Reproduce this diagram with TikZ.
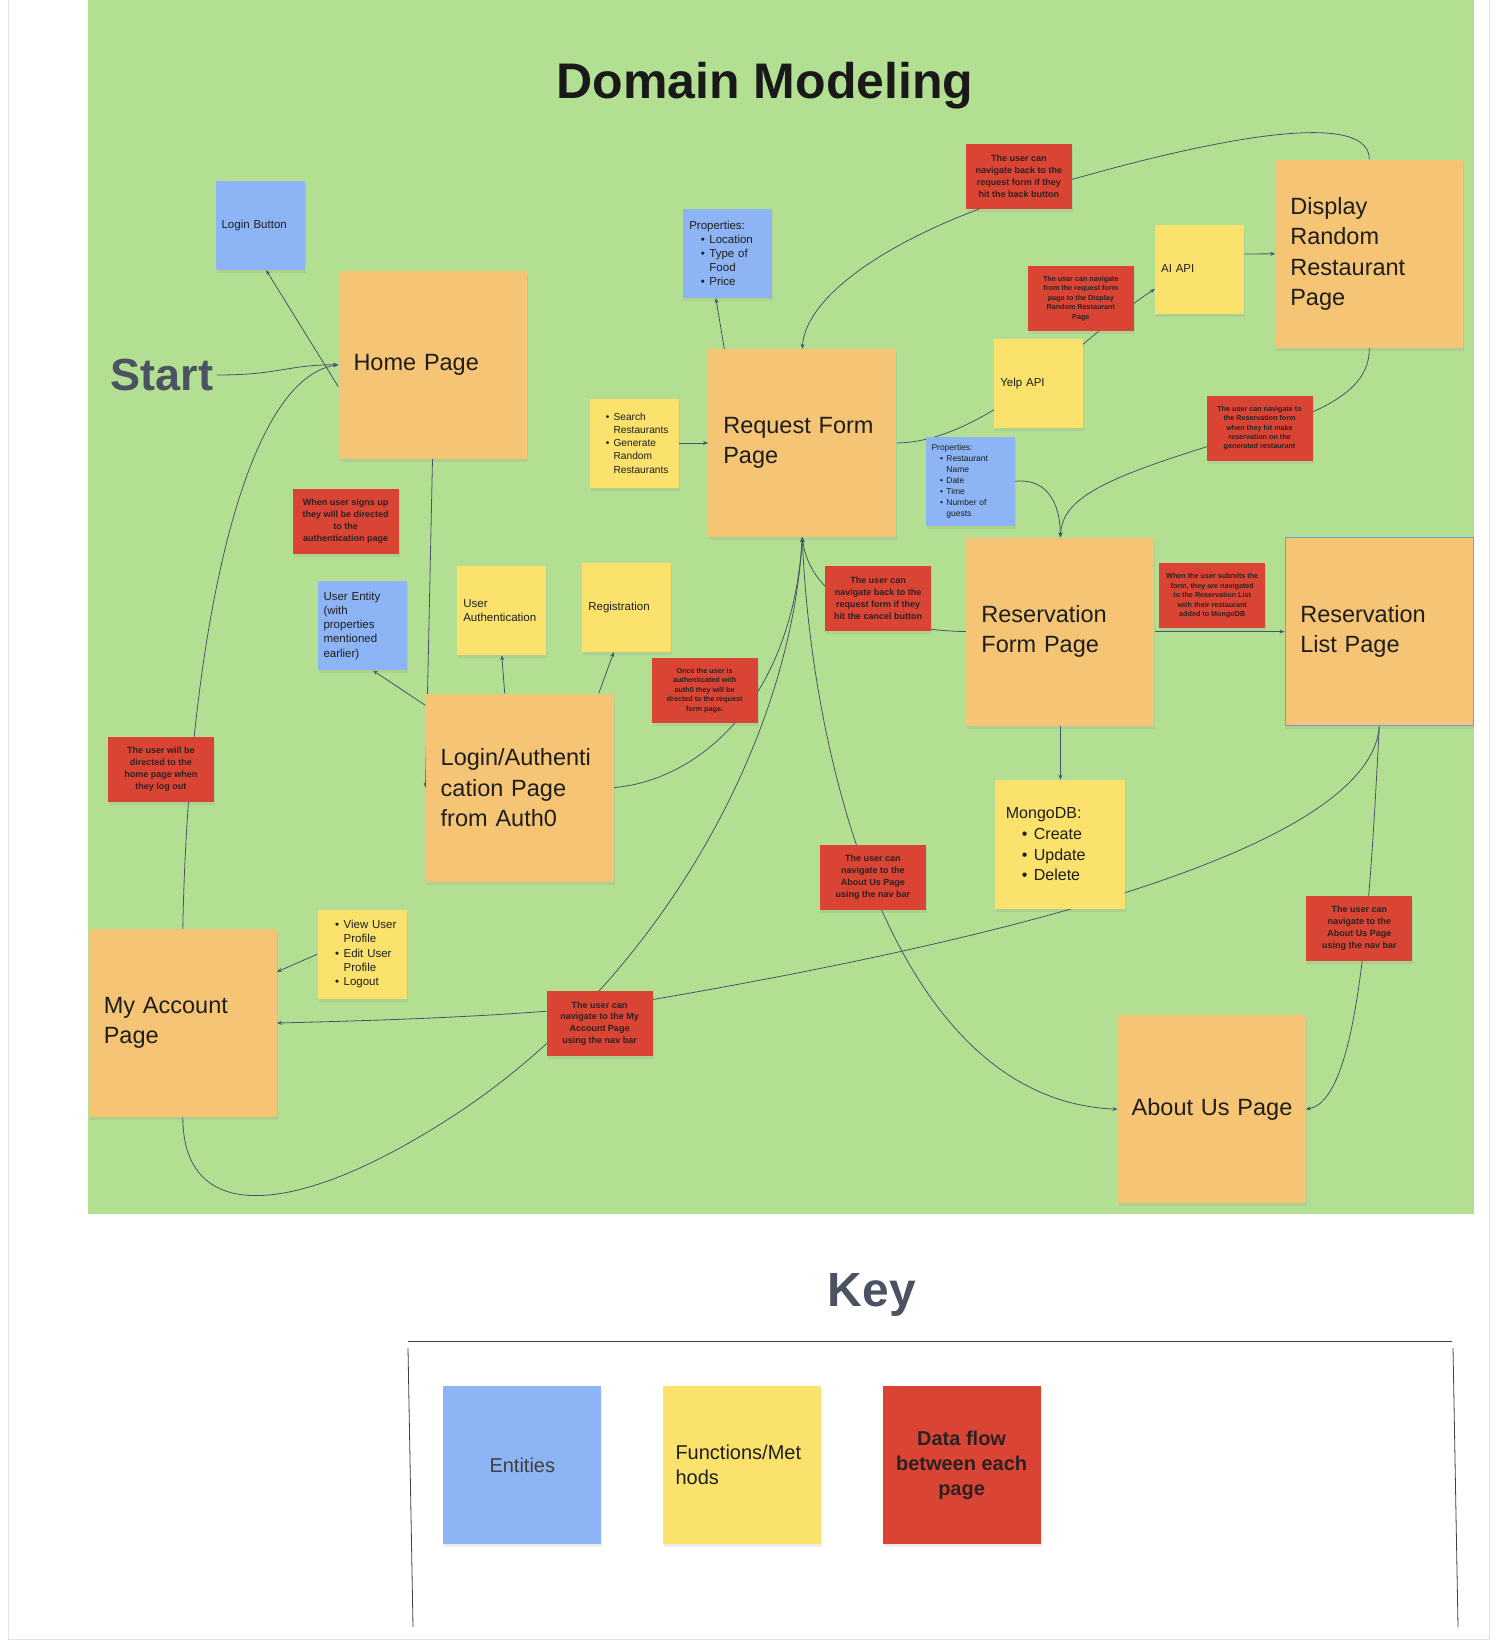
\documentclass[tikz,border=0pt]{standalone}
\usepackage{fontspec}
\setmainfont{Liberation Sans}
\usetikzlibrary{arrows.meta,positioning,shadows}
\definecolor{board}{HTML}{B3DF92}
\definecolor{pageor}{HTML}{F5C474}
\definecolor{entblue}{HTML}{8DB4F4}
\definecolor{funcyel}{HTML}{FBE26D}
\definecolor{flowred}{HTML}{DA4434}
\definecolor{ink}{HTML}{1E1E1E}
\definecolor{notetext}{HTML}{2A2222}
\definecolor{slate}{HTML}{4B5363}
\definecolor{wire}{HTML}{4A5468}
\definecolor{frame}{HTML}{E2E2E2}
\definecolor{listedge}{HTML}{6E9DE0}
\pgfdeclarelayer{board}
\pgfdeclarelayer{wires}
\pgfsetlayers{board,wires,main}
\tikzset{
  >={Stealth[length=5pt,width=4pt]},
  every node/.style={text=ink},
  sticky/.style={drop shadow={opacity=0.15,shadow xshift=1pt,shadow yshift=-3pt}},
  pagebox/.style={sticky,fill=pageor,minimum width=188pt,minimum height=188pt,text width=158pt,inner xsep=15pt,align=left,font=\fontsize{23.5}{30.5}\selectfont},
  entbox/.style={sticky,fill=entblue,minimum width=89pt,minimum height=89pt,text width=77pt,inner xsep=6pt,align=left,font=\fontsize{11.5}{14.2}\selectfont},
  funcbox/.style={entbox,fill=funcyel},
  flowbox/.style={sticky,fill=flowred,minimum width=106pt,minimum height=65pt,inner sep=2pt,align=center,text=notetext,font=\bfseries\fontsize{9}{11.9}\selectfont},
  tinyflow/.style={flowbox,font=\bfseries\fontsize{7.2}{9.4}\selectfont},
  keybox/.style={sticky,minimum width=158pt,minimum height=158pt,font=\fontsize{20}{24.5}\selectfont},
  heading/.style={font=\bfseries\fontsize{48}{58}\selectfont,text=slate},
  link/.style={->,draw=wire,line width=0.8pt},
  keyline/.style={draw=ink!85,line width=0.8pt},
}
\newcommand{\bul}{\hspace*{1em}\makebox[0.75em][l]{\textbullet}}
\newcommand{\bulcont}{\hspace*{1.75em}}

\begin{document}
\begin{tikzpicture}[x=1pt,y=-1pt]
\useasboundingbox (0,0) rectangle (1508,1648);

% --- board and frame
\begin{pgfonlayer}{board}
\fill[white] (0,0) rectangle (1508,1648);
\fill[board] (88.3,0) rectangle (1474.4,1213.8);
\draw[frame,line width=1pt] (8.4,0) -- (8.4,1639) -- (1489,1639) -- (1489,0);
\end{pgfonlayer}

\node[font=\bfseries\fontsize{50}{60}\selectfont,text=black!90] (title) at (765,86) {Domain Modeling};
\node[heading,font=\bfseries\fontsize{45}{54}\selectfont] (start) at (162,375) {Start};

% --- pages
\node[pagebox] (home) at (432.5,364.7) {Home Page};
\node[pagebox] (request) at (802.3,443) {Request Form\\Page};
\node[pagebox] (display) at (1369.3,253.8) {Display\\Random\\Restaurant\\Page};
\node[pagebox] (resform) at (1060.4,631.6) {Reservation\\Form Page};
\node[pagebox,draw=listedge,line width=1.5pt] (reslist) at (1379.3,631.6) {Reservation\\List Page};
\node[pagebox] (login) at (519.7,787.6) {Login/Authenti\\cation Page\\from Auth0};
\node[pagebox] (account) at (182.8,1023) {My Account\\Page};
\node[pagebox,text width=164pt,inner xsep=12pt] (about) at (1211.7,1109.2) {\hspace*{2pt}About Us Page};

% --- entities
\node[entbox] (loginbtn) at (260.1,225.4) {Login Button};
\node[entbox] (reqprops) at (727.8,253.3) {Properties:\\\bul Location\\\bul Type of\\\bulcont Food\\\bul Price};
\node[entbox,font=\fontsize{8.5}{10.9}\selectfont] (resprops) at (970,481.3) {Properties:\\\bul Restaurant\\\bulcont Name\\\bul Date\\\bul Time\\\bul Number of\\\bulcont guests};
\node[entbox] (userent) at (362,625.8) {User Entity\\(with\\properties\\mentioned\\earlier)};

% --- functions
\node[funcbox] (aiapi) at (1199.6,269) {AI API};
\node[funcbox] (yelp) at (1038.8,383.6) {Yelp API};
\node[funcbox,font=\fontsize{10.2}{13.2}\selectfont] (search) at (634.2,443) {\bul Search\\\bulcont Restaurants\\\bul Generate\\\bulcont Random\\\bulcont Restaurants};
\node[funcbox] (userauth) at (501.8,610.6) {User\\Authentication};
\node[funcbox] (regist) at (626.8,607.4) {Registration};
\node[funcbox] (profile) at (362,954.2) {\bul View User\\\bulcont Profile\\\bul Edit User\\\bulcont Profile\\\bul Logout};
\node[funcbox,minimum width=130pt,minimum height=129pt,text width=109pt,inner xsep=10.5pt,font=\fontsize{16}{20.7}\selectfont] (mongo) at (1060.4,844.4) {MongoDB:\\\bul Create\\\bul Update\\\bul Delete};

% --- data flow notes
\node[flowbox] (backnote) at (1018.8,176.6) {The user can\\navigate back to the\\request form if they\\hit the back button};
\node[tinyflow] (randnote) at (1080.8,298.5) {The user can navigate\\from the request form\\page to the Display\\Random Restaurant\\Page};
\node[tinyflow] (booknote) at (1259.5,428.2) {The user can navigate to\\the Reservation form\\when they hit make\\reservation on the\\generated restaurant};
\node[tinyflow] (submitnote) at (1212.2,595.9) {When the user submits the\\form, they are navigated\\to the Reservation List\\with their restaurant\\added to MongoDB};
\node[flowbox] (cancelnote) at (878,598) {The user can\\navigate back to the\\request form if they\\hit the cancel button};
\node[tinyflow] (authnote) at (704.6,690.4) {Once the user is\\authenticated with\\auth0 they will be\\drected to the request\\form page.};
\node[flowbox] (signupnote) at (345.7,521.2) {When user signs up\\they will be directed\\to the\\authentication page};
\node[flowbox] (logoutnote) at (160.8,769.3) {The user will be\\directed to the\\home page when\\they log out};
\node[flowbox] (accnote) at (599.5,1023.6) {The user can\\navigate to the My\\Account Page\\using the nav bar};
\node[flowbox] (aboutnote) at (872.8,877.5) {The user can\\navigate to the\\About Us Page\\using the nav bar};
\node[flowbox] (aboutnotetwo) at (1359.3,928) {The user can\\navigate to the\\About Us Page\\using the nav bar};

% --- connectors
\begin{pgfonlayer}{wires}
\draw[link] (start.east) .. controls (280,375) and (285,365) .. (home.west);
\draw[link] ([yshift=-22pt]home.west) -- ([xshift=6pt]loginbtn.south);
\draw[link] (home.south) -- (login.west);
\draw[link] ([yshift=-12pt]login.north west) -- ([xshift=11pt]userent.south);
\draw[link] ([xshift=-15pt]login.north) -- (userauth.south);
\draw[link] ([xshift=79pt]login.north) -- ([xshift=-13pt]regist.south);
\draw[link] (login.east) .. controls (700,780) and (792,700) .. (request.south);
\draw[link] (search.east) -- (request.west);
\draw[link] ([xshift=-78pt]request.north) -- ([xshift=-12pt]reqprops.south);
\draw[link] (display.north) .. controls (1370,115) and (1250,125) .. (1019,195) .. controls (880,240) and (805,300) .. (request.north);
\draw[link] (request.east) .. controls (990,442) and (1090,330) .. ([yshift=-20pt]aiapi.west);
\draw[link] ([yshift=15pt]aiapi.east) -- (display.west);
\draw[link] (display.south) .. controls (1370,400) and (1300,420) .. (1206,447) .. controls (1100,480) and (1062,500) .. (resform.north);
\draw[link] (resprops.east) .. controls (1045,478) and (1060,500) .. (resform.north);
\draw[link] (resform.west) .. controls (880,630) and (810,600) .. (request.south);
\draw[link] (resform.east) -- (reslist.west);
\draw[link] (resform.south) -- (mongo.north);
\draw[link] (request.south) .. controls (810,750) and (890,1100) .. (about.west);
\draw[link] (reslist.south) .. controls (1370,900) and (1360,1100) .. (about.east);
\draw[link] (reslist.south) .. controls (1370,850) and (1000,940) .. (650,1000) .. controls (550,1015) and (400,1020) .. (account.east);
\draw[link] (profile.west) -- ([yshift=-43pt]account.north east);
\draw[link] (account.north) .. controls (188,650) and (240,380) .. (home.west);
\draw[link] (account.south) .. controls (183,1228) and (300,1215) .. (450,1118) .. controls (650,990) and (790,750) .. (request.south);
\end{pgfonlayer}

% --- key
\node[heading] (keytitle) at (872,1295) {Key};
\draw[keyline] (408,1341) -- (1452,1341);
\draw[keyline] (408,1348) -- (413,1627);
\draw[keyline] (1453,1348) -- (1458,1627);
\node[keybox,fill=entblue,text=ink!85] (keyent) at (522.3,1465) {Entities};
\node[keybox,fill=funcyel,text width=133pt,inner xsep=12.5pt,align=left] (keyfunc) at (742,1465) {Functions/Met\\hods};
\node[keybox,fill=flowred,align=center,text=notetext,font=\bfseries\fontsize{20}{25}\selectfont] (keyflow) at (961.6,1465) {Data flow\\between each\\page};

\end{tikzpicture}
\end{document}
